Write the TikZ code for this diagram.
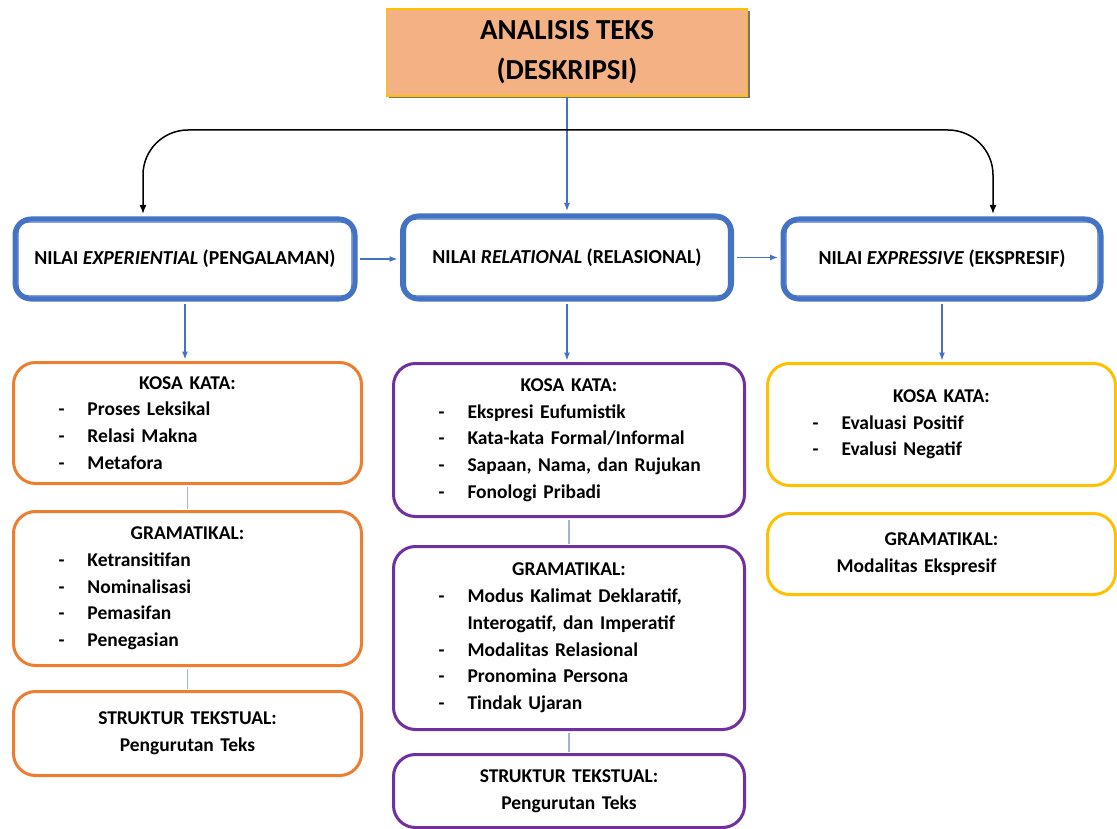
\documentclass[tikz,border=0pt]{standalone}
\usepackage{fontspec}
\setmainfont{Carlito}
\usetikzlibrary{arrows.meta,shadows}
\definecolor{biru}{HTML}{4472C4}
\definecolor{jingga}{HTML}{ED7D31}
\definecolor{ungu}{HTML}{7030A0}
\definecolor{kuning}{HTML}{FFC000}
\definecolor{salem}{HTML}{F4B183}
\definecolor{abu}{HTML}{A3B3D3}
\tikzset{
judul/.style={draw=kuning, line width=1.5pt, fill=salem, minimum width=361pt,
    minimum height=87pt, align=center, font=\fontsize{29}{40}\selectfont\bfseries,
    drop shadow={shadow xshift=2pt, shadow yshift=-2pt, fill=black!55, opacity=1}},
nilai/.style={draw=biru, line width=5pt, rounded corners=16pt, fill=white,
    minimum height=80pt, font=\fontsize{19.8}{22}\selectfont\bfseries},
kotak/.style={line width=3pt, rounded corners=22pt, inner sep=0pt, align=left,
    font=\fontsize{19.5}{26.7}\selectfont\bfseries},
panahbiru/.style={biru, line width=1.2pt, -{Latex[length=8pt,width=6pt]}},
panahhitam/.style={black, line width=1.5pt, rounded corners=45pt,
    -{Latex[length=9pt,width=7pt]}},
garis/.style={abu, line width=1.2pt}
}
\newcommand{\kepala}[1]{{\centering #1\par}}
\newcommand{\butir}[1]{\par\noindent\hspace*{45pt}\makebox[29pt][l]{-}#1}
\newcommand{\baris}[2][74pt]{\par\noindent\hspace*{#1}#2}

\begin{document}
\begin{tikzpicture}[x=1pt, y=-1pt]
	\useasboundingbox (0,0) rectangle (1117,829);
	\node[judul] (analisis) at (567,52.5) {ANALISIS TEKS\\(DESKRIPSI)};
	\node[nilai, minimum width=340pt] (pengalaman) at (185,259)
		{NILAI \textit{EXPERIENTIAL} (PENGALAMAN)};
	\node[nilai, minimum width=329pt, minimum height=83pt] (relasional) at (567,257.5)
		{NILAI \textit{RELATIONAL} (RELASIONAL)};
	\node[nilai, minimum width=318pt] (ekspresif) at (942,259)
		{NILAI \textit{EXPRESSIVE} (EKSPRESIF)};
	\foreach \n in {pengalaman,relasional,ekspresif}
		\draw[biru, line width=1.2pt, rounded corners=11pt]
			([shift={(5.5pt,-5.5pt)}]\n.north west) rectangle ([shift={(-5.5pt,5.5pt)}]\n.south east);

	\node[kotak, draw=jingga, text width=348pt, minimum height=121pt] (kosa1) at (187.5,423)
		{\kepala{KOSA KATA:}\butir{Proses Leksikal}\butir{Relasi Makna}\butir{Metafora}};
	\node[kotak, draw=jingga, text width=348pt, minimum height=154pt] (gram1) at (187.5,588.5)
		{\kepala{GRAMATIKAL:}\butir{Ketransitifan}\butir{Nominalisasi}\butir{Pemasifan}\butir{Penegasian}};
	\node[kotak, draw=jingga, text width=348pt, minimum height=84pt] (teks1) at (187.5,733.5)
		{\kepala{STRUKTUR TEKSTUAL:\\Pengurutan Teks}};

	\node[kotak, draw=ungu, text width=351pt, minimum height=153pt] (kosa2) at (569,440)
		{\kepala{KOSA KATA:}\butir{Ekspresi Eufumistik}\butir{Kata-kata Formal/Informal}
		\butir{Sapaan, Nama, dan Rujukan}\butir{Fonologi Pribadi}};
	\node[kotak, draw=ungu, text width=351pt, minimum height=183pt] (gram2) at (569,638)
		{\kepala{GRAMATIKAL:}\butir{Modus Kalimat Deklaratif,}\baris{Interogatif, dan Imperatif}
		\butir{Modalitas Relasional}\butir{Pronomina Persona}\butir{Tindak Ujaran}};
	\node[kotak, draw=ungu, text width=351pt, minimum height=73pt] (teks2) at (569,791)
		{\kepala{STRUKTUR TEKSTUAL:\\Pengurutan Teks}};

	\node[kotak, draw=kuning, text width=348pt, minimum height=122pt] (kosa3) at (941.5,424.5)
		{\kepala{KOSA KATA:}\butir{Evaluasi Positif}\butir{Evalusi Negatif}};
	\node[kotak, draw=kuning, text width=348pt, minimum height=81pt] (gram3) at (941.5,554)
		{\kepala{GRAMATIKAL:}\baris[69pt]{Modalitas Ekspresif}};

	\coordinate (cabang) at (567,130);
	\draw[panahbiru, shorten >=2.5pt] (analisis.south) -- (relasional.north);
	\draw[panahhitam, shorten >=2.5pt] (cabang) -| ([xshift=-42pt]pengalaman.north);
	\draw[panahhitam, shorten >=2.5pt] (cabang) -| ([xshift=51pt]ekspresif.north);
	\draw[panahbiru, shorten <=2.5pt, shorten >=2.5pt] (pengalaman.east) -- (relasional.west |- pengalaman.east);
	\draw[panahbiru, shorten <=2.5pt, shorten >=2.5pt] (relasional.east) -- (ekspresif.west |- relasional.east);
	\foreach \a/\b in {pengalaman/kosa1, relasional/kosa2, ekspresif/kosa3}
		\draw[panahbiru, shorten <=2.5pt, shorten >=1.5pt] (\a.south) -- (\a.south |- \b.north);
	\foreach \a/\b in {kosa1/gram1, gram1/teks1, kosa2/gram2, gram2/teks2}
		\draw[garis, shorten <=1.5pt, shorten >=1.5pt] (\a.south) -- (\b.north);
\end{tikzpicture}
\end{document}
